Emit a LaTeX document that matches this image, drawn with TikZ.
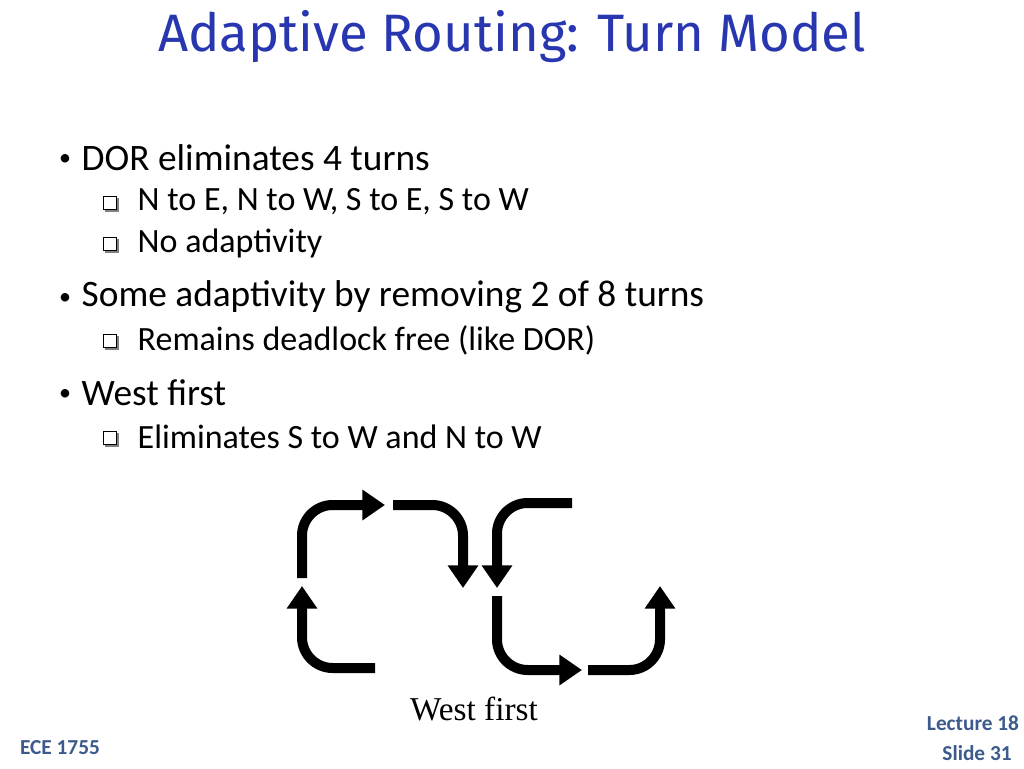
\documentclass[tikz,border=0pt]{standalone}
\usepackage{fontspec}
\setmainfont{Carlito}
\newfontfamily\titlefont{Fira Sans}
\newfontfamily\timesfont{Liberation Serif}
\usetikzlibrary{arrows.meta}
\definecolor{titleblue}{RGB}{40,55,175}
\definecolor{footblue}{RGB}{60,90,140}
\tikzset{
  lvlone/.style={anchor=west, font=\fontsize{28}{32}\selectfont},
  lvltwo/.style={anchor=west, font=\fontsize{25.5}{29}\selectfont},
  dot/.style={anchor=center, font=\fontsize{18}{20}\selectfont},
  sqbullet/.style={draw, line width=1pt, minimum size=10pt, inner sep=0pt, fill=white},
  sqshadow/.style={fill=gray, minimum size=10pt, inner sep=0pt},
  turn/.style={line width=7.5pt, rounded corners=23pt, -{Triangle[width=22pt,length=17pt]}},
  foot/.style={text=footblue, font=\bfseries\fontsize{16}{18}\selectfont}
}
\begin{document}
\begin{tikzpicture}[x=0.75pt,y=-0.75pt]
\useasboundingbox (0,0) rectangle (1024,768);

\node[text=titleblue, font=\titlefont\fontsize{39.5}{44}\selectfont] (title) at (512,37) {Adaptive Routing: Turn Model};

% bullet list
\node[dot] (b1) at (65,160) {•};
\node[lvlone] (t1) at (77,158) {DOR eliminates 4 turns};
\node[sqshadow] (h1) at (112,205) {};
\node[sqbullet] (s1) at (110,203) {};
\node[lvltwo] (t11) at (133,202) {N to E, N to W, S to E, S to W};
\node[sqshadow] (h2) at (112,246) {};
\node[sqbullet] (s2) at (110,244) {};
\node[lvltwo] (t12) at (133,243) {No adaptivity};
\node[dot] (b2) at (65,299) {•};
\node[lvlone] (t2) at (77,297) {Some adaptivity by removing 2 of 8 turns};
\node[sqshadow] (h3) at (112,343) {};
\node[sqbullet] (s3) at (110,341) {};
\node[lvltwo] (t21) at (133,340) {Remains deadlock free (like DOR)};
\node[dot] (b3) at (65,395) {•};
\node[lvlone] (t3) at (77,393) {West first};
\node[sqshadow] (h4) at (112,440) {};
\node[sqbullet] (s4) at (110,438) {};
\node[lvltwo] (t31) at (133,437) {Eliminates S to W and N to W};

% turns
\draw[turn] (302,578) -- (302,505) -- (385,505);
\draw[turn] (393,505) -- (463,505) -- (463,588);
\draw[turn] (375,668) -- (302,668) -- (302,586);
\draw[turn] (572,503) -- (497,503) -- (497,588);
\draw[turn] (497,596) -- (497,670) -- (582,670);
\draw[turn] (588,670) -- (660,670) -- (660,586);

\node[font=\timesfont\fontsize{25}{29}\selectfont] (cap) at (474,709) {West first};

% footer
\node[foot] (ece) at (60,748) {ECE 1755};
\node[foot] (lec) at (973,723) {Lecture 18};
\node[foot] (sl) at (977,753) {Slide 31};
\end{tikzpicture}
\end{document}
